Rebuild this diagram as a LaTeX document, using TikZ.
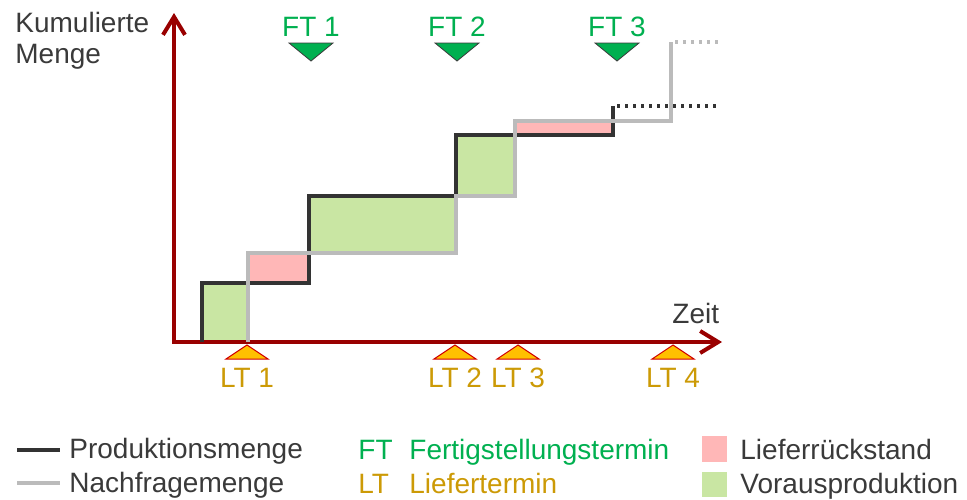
\documentclass[tikz,border=0pt]{standalone}
\usepackage{fontspec}
\setmainfont{Liberation Sans}
\usetikzlibrary{arrows.meta}
\definecolor{axisred}{HTML}{990000}
\definecolor{prodcol}{HTML}{333333}
\definecolor{demcol}{HTML}{BBBBBB}
\definecolor{textgray}{HTML}{3A3A3A}
\definecolor{ftgreen}{HTML}{00B050}
\definecolor{ltgold}{HTML}{CC9A06}
\definecolor{ltfill}{HTML}{FFC000}
\definecolor{ltedge}{HTML}{D00000}
\definecolor{backlog}{HTML}{FFB7B7}
\definecolor{advance}{HTML}{C9E6A3}

\begin{document}
\begin{tikzpicture}[x=0.5pt,y=-0.5pt,
    every node/.style={inner sep=0pt,font=\fontsize{14}{16}\selectfont,text=textgray},
    axisline/.style={axisred,line width=2pt,{Straight Barb[length=9pt,width=11pt]}-{Straight Barb[length=9pt,width=11pt]}},
    prodline/.style={prodcol,line width=2.3pt},
    demline/.style={demcol,line width=1.7pt},
    ftmark/.style={fill=ftgreen,draw=textgray,line width=0.4pt},
    ltmark/.style={fill=ltfill,draw=ltedge,line width=0.5pt},
    ftlabel/.style={anchor=base,text=ftgreen},
    ltlabel/.style={anchor=base,text=ltgold}]
       \useasboundingbox (0,0) rectangle (967,499);

       % surplus and backlog areas
       \fill[advance] (202,283) rectangle (248,342);
       \fill[backlog] (248,253) rectangle (309,283);
       \fill[advance] (309,196) rectangle (456,253);
       \fill[advance] (456,135) rectangle (515,196);
       \fill[backlog] (515,121) rectangle (613,135);

       % axes
       \coordinate (O) at (174,342);
       \coordinate (ytop) at (174,13);
       \coordinate (xend) at (722,342);
       \draw[axisline] (ytop) -- (O) -- (xend);
       \node[anchor=base west] (ylabel) at (15,32) {Kumulierte};
       \node[anchor=base west] (ylabel2) at (15,63) {Menge};
       \node[anchor=base west] (xlabel) at (672,323) {Zeit};

       % production and demand
       \draw[prodline] (202,342) |- (309,283) |- (456,196) |- (613,135) -- (613,106);
       \draw[prodline,dash pattern=on 1.5pt off 2.5pt] (617,106) -- (720,106);
       \draw[demline] (248,342) |- (456,253) |- (515,196) |- (671,121) -- (671,42);
       \draw[demline,dash pattern=on 1.5pt off 2.5pt] (675,42) -- (720,42);

       % completion dates
       \draw[ftmark] (289,43) -- (333,43) -- (311,61) -- cycle;
       \draw[ftmark] (435,43) -- (479,43) -- (457,61) -- cycle;
       \draw[ftmark] (595,43) -- (639,43) -- (617,61) -- cycle;
       \node[ftlabel] (ft1) at (311,36) {FT 1};
       \node[ftlabel] (ft2) at (457,36) {FT 2};
       \node[ftlabel] (ft3) at (617,36) {FT 3};

       % delivery dates
       \draw[ltmark] (226,359) -- (268,359) -- (247,345) -- cycle;
       \draw[ltmark] (434,359) -- (476,359) -- (455,345) -- cycle;
       \draw[ltmark] (497,359) -- (539,359) -- (518,345) -- cycle;
       \draw[ltmark] (652,359) -- (694,359) -- (673,345) -- cycle;
       \node[ltlabel] (lt1) at (247,387) {LT 1};
       \node[ltlabel] (lt2) at (455,387) {LT 2};
       \node[ltlabel] (lt3) at (518,387) {LT 3};
       \node[ltlabel] (lt4) at (673,387) {LT 4};

       % legend
       \draw[prodline] (17,450) -- (60,450);
       \draw[demline] (17,483) -- (60,483);
       \node[anchor=base west] (legprod) at (69,458) {Produktionsmenge};
       \node[anchor=base west] (legdem) at (69,492) {Nachfragemenge};
       \node[anchor=base west,text=ftgreen] (legft) at (358,459) {FT};
       \node[anchor=base west,text=ftgreen] (legfttext) at (409,459) {Fertigstellungstermin};
       \node[anchor=base west,text=ltgold] (leglt) at (358,493) {LT};
       \node[anchor=base west,text=ltgold] (leglttext) at (409,493) {Liefertermin};
       \fill[backlog] (702,436) rectangle (727,462);
       \fill[advance] (702,472) rectangle (727,497);
       \node[anchor=base west] (legback) at (740,459) {Lieferrückstand};
       \node[anchor=base west] (legadv) at (740,493) {Vorausproduktion};
     \end{tikzpicture}
\end{document}
